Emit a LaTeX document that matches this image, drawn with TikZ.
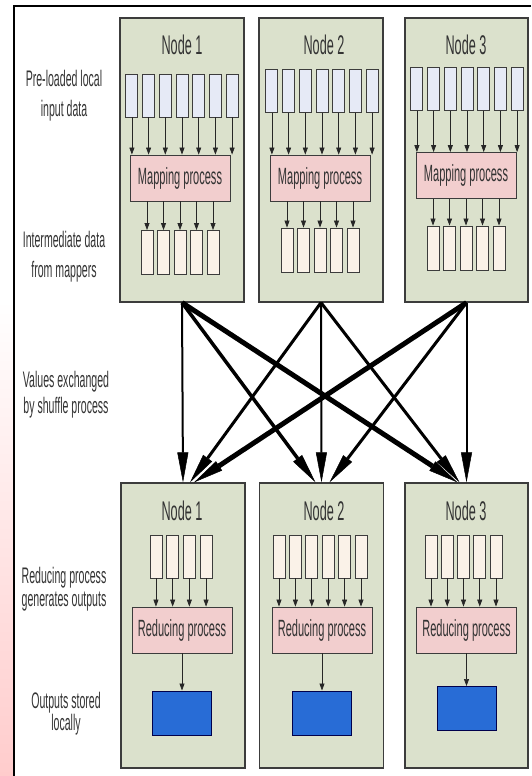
\documentclass[tikz,border=0pt]{standalone}
\usepackage{fontspec}
\setmainfont{Liberation Sans}[FakeStretch=0.47]
\usetikzlibrary{arrows.meta}

\definecolor{nodefill}{RGB}{219,225,204}
\definecolor{infill}{RGB}{230,234,246}
\definecolor{midfill}{RGB}{250,242,232}
\definecolor{procfill}{RGB}{242,206,206}
\definecolor{outfill}{RGB}{40,108,214}
\definecolor{edge}{RGB}{60,60,60}

\begin{document}
\begin{tikzpicture}[x=1pt,y=-1pt,
  font=\fontsize{22.5}{26}\selectfont,
  machine/.style={draw=edge, fill=nodefill, line width=1.2pt,
                  minimum width=124pt, minimum height=284pt, inner sep=0pt},
  title/.style={anchor=base, text=black!80, font=\fontsize{27}{30}\selectfont},
  lbl/.style={align=center, text=black!80},
  cell/.style={draw=edge, line width=0.9pt, minimum width=12pt,
               minimum height=43pt, inner sep=0pt},
  proc/.style={draw=edge, fill=procfill, line width=0.8pt, minimum width=100pt,
               minimum height=46pt, inner sep=0pt, text=black!80,
               font=\fontsize{23.5}{26}\selectfont},
  result/.style={draw=black!70!blue, fill=outfill, line width=1pt,
                 minimum width=59pt, minimum height=44pt, inner sep=0pt},
  small/.style={-{Triangle[length=7pt,width=5pt]}, line width=0.7pt, draw=black!85},
  shuffle/.style={-{Triangle[length=30pt,width=11pt,line width=0.5pt]}}]
    \useasboundingbox (0,0) rectangle (531,776);
    % page margin and frame
    \shade[top color=white, bottom color=red!20] (0,300) rectangle (13,776);
    \draw[line width=2.5pt] (531,6) -- (14,6) -- (14,776);

    % the six machines
    \node[machine] (top1) at (182,160) {};
    \node[machine] (top2) at (321,160) {};
    \node[machine, minimum width=123pt] (top3) at (466.5,160) {};
    \node[machine, minimum height=285pt] (bot1) at (183,625.5) {};
    \node[machine, minimum height=285pt] (bot2) at (321.5,625.5) {};
    \node[machine, minimum width=123pt, minimum height=285pt] (bot3) at (466.5,625.5) {};

    \node[title] (ttl1) at (182,55) {Node 1};
    \node[title] (ttl2) at (324,55) {Node 2};
    \node[title] (ttl3) at (466,55) {Node 3};
    \node[title] (btl1) at (182,520) {Node 1};
    \node[title] (btl2) at (324,520) {Node 2};
    \node[title] (btl3) at (466,520) {Node 3};

    % labels on the left
    \node[lbl] (lin)  at (64,96)  {Pre-loaded local\\[4pt]input data};
    \node[lbl] (lmid) at (64,257) {Intermediate data\\[4pt]from mappers};
    \node[lbl] (lshf) at (66,395) {Values exchanged\\[0pt]by shuffle process};
    \node[lbl] (lred) at (64,589) {Reducing process\\[-3pt]generates outputs};
    \node[lbl] (lout) at (66,714) {Outputs stored\\[-4pt]locally};

    % map side
    \foreach \c/\x/\y/\mx/\my/\iy in {1/182/95.5/180/178/252.5,
                                     2/322/91/320/178/250,
                                     3/467/89/466/175.5/248}{
      \node[proc] (map\c) at (\mx,\my) {Mapping process};
      \foreach \k in {1,...,7}{
        \node[cell, fill=infill] (in\c\k) at ({\x+(\k-4)*16.7},\y) {};
        \draw[small] (in\c\k) -- (in\c\k.south |- map\c.north);
      }
      \foreach \k in {1,...,5}{
        \node[cell, fill=midfill, minimum height=44pt] (mid\c\k) at ({\mx+(\k-3)*16.5},\iy) {};
        \draw[small] (map\c.south -| mid\c\k) -- (mid\c\k);
      }
    }

    % reduce side
    \foreach \c/\n/\x/\p/\bx/\oy in {1/4/181/16.7/182/713,
                                     2/6/320/16.4/322/713,
                                     3/5/463.5/16.25/466.5/708.5}{
      \node[proc] (red\c) at (\bx,630) {Reducing process};
      \foreach \k in {1,...,\n}{
        \node[cell, fill=midfill] (rin\c\k) at ({\x+(\k-(\n+1)/2)*\p},556.5) {};
        \draw[small] (rin\c\k) -- (rin\c\k.south |- red\c.north);
      }
      \node[result] (res\c) at (\bx,\oy) {};
      \draw[small] (red\c) -- (res\c);
    }

    % shuffle
    \draw[shuffle, line width=2pt]   (top1.south) -- (bot1.north);
    \draw[shuffle, line width=3.5pt] (top1.south) -- ([xshift=-6pt]bot2.north);
    \draw[shuffle, line width=5pt]   (top1.south) -- ([xshift=-9pt]bot3.north);
    \draw[shuffle, line width=3pt]   (top2.south) -- ([xshift=7pt]bot1.north);
    \draw[shuffle, line width=2pt]   (top2.south) -- (bot2.north);
    \draw[shuffle, line width=3pt]   (top2.south) -- ([xshift=-7pt]bot3.north);
    \draw[shuffle, line width=5pt]   (top3.south) -- ([xshift=11pt]bot1.north);
    \draw[shuffle, line width=3pt]   (top3.south) -- ([xshift=8pt]bot2.north);
    \draw[shuffle, line width=2pt]   (top3.south) -- (bot3.north);
\end{tikzpicture}
\end{document}
